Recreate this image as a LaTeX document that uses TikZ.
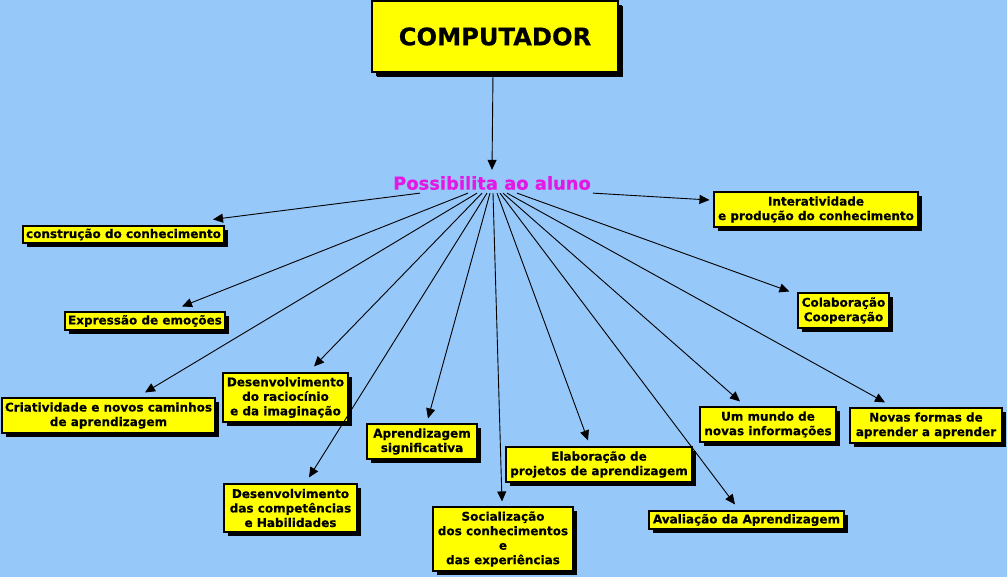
\documentclass[tikz,border=0pt]{standalone}
\usepackage{fontspec}
\setmainfont{DejaVu Sans}[BoldFeatures={FakeBold=0.4}]
\usetikzlibrary{arrows.meta,shadows}
\definecolor{bg}{RGB}{150,200,250}
\definecolor{cardfill}{RGB}{255,255,0}
\definecolor{hubcol}{RGB}{228,24,228}
\tikzset{
  card/.style={draw=black, line width=1.1pt, fill=cardfill, inner sep=0pt,
    align=center, font=\bfseries\fontsize{12}{14.5}\selectfont,
    drop shadow={shadow xshift=4pt, shadow yshift=-4pt, fill=black, opacity=1}},
  link/.style={line width=0.9pt, -{Triangle[length=10pt,width=9pt]}}
}
\begin{document}
\begin{tikzpicture}[x=1pt,y=-1pt]
\fill[bg] (0,0) rectangle (1007,577);
\useasboundingbox (0,0) rectangle (1007,577);

\node[card, line width=1.3pt, minimum width=246pt, minimum height=71pt,
  font=\bfseries\fontsize{24.2}{28}\selectfont,
  drop shadow={shadow xshift=5pt, shadow yshift=-5pt, fill=black, opacity=1}]
  (comp) at (495,36.5) {COMPUTADOR};
\node[inner sep=0pt, text=hubcol, font=\bfseries\fontsize{17.9}{20}\selectfont]
  (hub) at (492,183) {Possibilita ao aluno};

\node[card, minimum width=201pt, minimum height=17pt] (c1) at (123.5,234.5) {construção do conhecimento};
\node[card, minimum width=160pt, minimum height=18pt] (c2) at (145,321) {Expressão de emoções};
\node[card, minimum width=213pt, minimum height=35pt] (c3) at (108.5,415.5) {Criatividade e novos caminhos\\de aprendizagem};
\node[card, minimum width=125pt, minimum height=49pt] (c4) at (285.5,397.5) {Desenvolvimento\\do raciocínio\\e da imaginação};
\node[card, minimum width=133pt, minimum height=48pt] (c5) at (290.5,508) {Desenvolvimento\\das competências\\e Habilidades};
\node[card, minimum width=110pt, minimum height=35pt] (c6) at (422,441.5) {Aprendizagem\\significativa};
\node[card, minimum width=140pt, minimum height=64pt] (c7) at (503,539) {Socialização\\dos conhecimentos\\e\\das experiências};
\node[card, minimum width=186pt, minimum height=35pt] (c8) at (599,464.5) {Elaboração de\\projetos de aprendizagem};
\node[card, minimum width=195pt, minimum height=18pt] (c9) at (746.5,520) {Avaliação da Aprendizagem};
\node[card, minimum width=136pt, minimum height=35pt] (c10) at (768,424.5) {Um mundo de\\novas informações};
\node[card, minimum width=152pt, minimum height=35pt] (c11) at (926,425.5) {Novas formas de\\aprender a aprender};
\node[card, minimum width=91pt, minimum height=35pt] (c12) at (843.5,310.5) {Colaboração\\Cooperação};
\node[card, minimum width=204pt, minimum height=35pt] (c13) at (816,209.5) {Interatividade\\e produção do conhecimento};

\draw[link] ([xshift=-2pt]comp.south) -- ([yshift=6pt]hub.north);
\draw[link] ([xshift=-72pt,yshift=-3pt]hub.south) -- ([xshift=89.5pt,yshift=6pt]c1.north);
\draw[link] ([xshift=-24pt,yshift=-3pt]hub.south) -- ([xshift=37pt,yshift=5pt]c2.north);
\draw[link] ([xshift=-15pt,yshift=-3pt]hub.south) -- ([xshift=36.5pt,yshift=5pt]c3.north);
\draw[link] ([xshift=-10pt,yshift=-3pt]hub.south) -- ([xshift=28.5pt,yshift=6pt]c4.north);
\draw[link] ([xshift=-5pt,yshift=-3pt]hub.south) -- ([xshift=18.5pt,yshift=6pt]c5.north);
\draw[link] ([xshift=-2pt,yshift=-3pt]hub.south) -- ([xshift=6pt,yshift=5pt]c6.north);
\draw[link] ([xshift=1pt,yshift=-3pt]hub.south) -- ([xshift=-1pt,yshift=5pt]c7.north);
\draw[link] ([xshift=5pt,yshift=-3pt]hub.south) -- ([xshift=-11pt,yshift=6pt]c8.north);
\draw[link] ([xshift=8pt,yshift=-3pt]hub.south) -- ([xshift=-11.5pt,yshift=6pt]c9.north);
\draw[link] ([xshift=11pt,yshift=-3pt]hub.south) -- ([xshift=-28pt,yshift=5pt]c10.north);
\draw[link] ([xshift=15pt,yshift=-3pt]hub.south) -- ([xshift=-41pt,yshift=5pt]c11.north);
\draw[link] ([xshift=25pt,yshift=-3pt]hub.south) -- ([xshift=-8pt,yshift=1pt]c12.north west);
\draw[link] ([xshift=101pt,yshift=-3pt]hub.south) -- ([xshift=-4pt,yshift=9.5pt]c13.west);
\end{tikzpicture}
\end{document}
